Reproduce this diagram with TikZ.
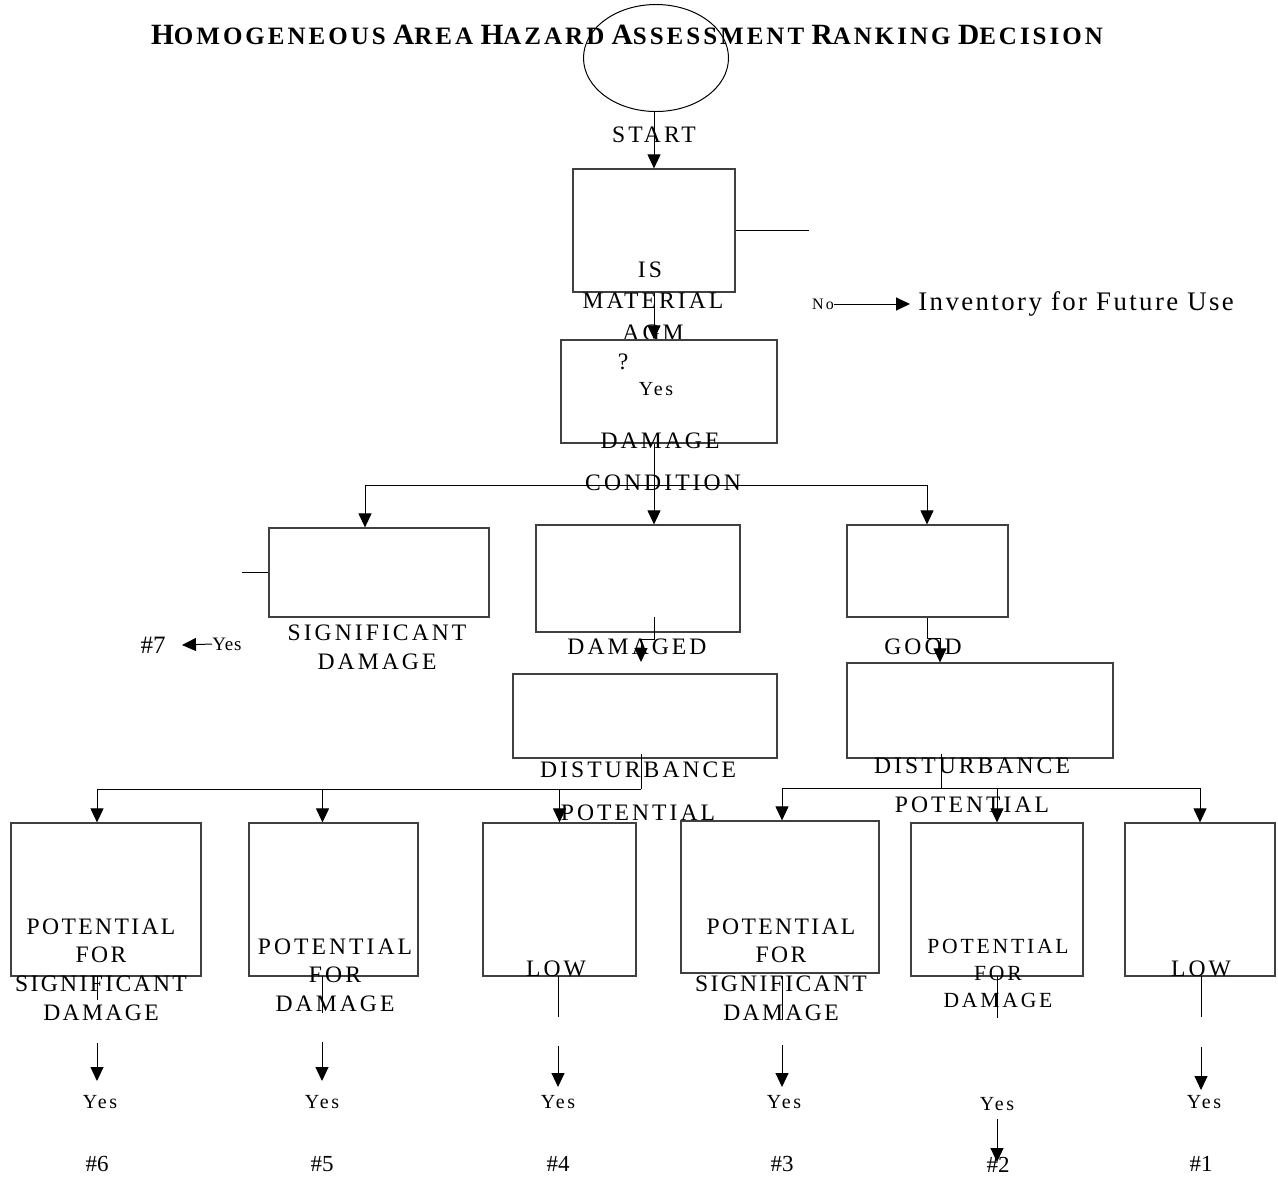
\documentclass[tikz,border=0pt]{standalone}
\usepackage{fontspec}
\setmainfont{Liberation Serif}
\newfontfamily\lblfont[LetterSpace=13]{Liberation Serif}
\newfontfamily\ttlfont[LetterSpace=12]{Liberation Serif}
\usetikzlibrary{arrows.meta, positioning, shapes.geometric, fit}
\newcommand{\ttlword}[2]{{\fontsize{14.7}{17}\selectfont #1}{\fontsize{12.5}{15}\selectfont #2}}
\tikzset{
  arr/.style={-{Triangle[length=7pt,width=6.5pt]}, line width=0.5pt},
  ln/.style={line width=0.5pt},
  boxq/.style={rectangle, draw=black!75, line width=0.6pt, inner sep=0pt},
  lbl/.style={font=\lblfont\fontsize{11.8}{14.3}\selectfont, inner sep=0pt, align=center},
  yes/.style={font=\lblfont\fontsize{10}{12}\selectfont, inner sep=0pt},
  rank/.style={font=\fontsize{11.5}{14}\selectfont, inner sep=0pt},
}
\begin{document}
\begin{tikzpicture}[x=0.5pt, y=-0.5pt]
  \useasboundingbox (0,0) rectangle (1278,1184);
  \fill[white] (0,0) rectangle (1278,1184);

  % title and start
  \node[font=\ttlfont\bfseries, inner sep=0pt] (title) at (627,35)
    {\ttlword{H}{OMOGENEOUS} \ttlword{A}{REA} \ttlword{H}{AZARD} \ttlword{A}{SSESSMENT} \ttlword{R}{ANKING} \ttlword{D}{ECISION}};
  \node[ellipse, draw, line width=0.5pt, minimum width=72.5pt, minimum height=53.5pt, inner sep=0pt] (start) at (656,58) {};
  \node[lbl] (startlbl) at (654,135) {START};

  % first question
  \node[boxq, fit={(573,169) (735,292)}] (q1) {};
  \draw[arr] (start.south -| q1.north) -- (q1.north);
  \node[lbl] (islbl) at (650,270) {IS};
  \node[lbl] (matlbl) at (653,301) {MATERIAL};
  \node[lbl] (agmlbl) at (653,333) {AGM};
  \node[lbl] (qmark) at (623,362) {?};
  \coordinate (nostub) at (809,231);
  \draw[ln] (q1.east) -- (q1.east -| nostub);
  \node[font=\lblfont\fontsize{8}{10}\selectfont, inner sep=0pt] (nolbl) at (823,304) {No};
  \node[font=\fontsize{13.4}{16}\selectfont\addfontfeature{LetterSpace=9}, inner sep=0pt, anchor=west] (inv) at (918,304) {Inventory for Future Use};
  \draw[arr] (nolbl.east) -- ([xshift=-4pt]inv.west);

  % damage condition
  \node[boxq, fit={(561,340) (777,443)}] (q2) {};
  \draw[arr] (q1.south) -- (q1.south |- q2.north);
  \node[yes] (yes0) at (656,389) {Yes};
  \node[lbl] (dmglbl) at (660,441) {DAMAGE};
  \node[lbl] (condlbl) at (663,483) {CONDITION};
  \coordinate (cond) at (654,485);
  \coordinate (condl) at (365,485);
  \coordinate (condr) at (927,485);
  \draw[ln] (q2.south -| cond) -- (cond);

  \node[boxq, fit={(269,528) (489,617)}] (sig) {};
  \node[boxq, fit={(536,525) (740,632)}] (dmg) {};
  \node[boxq, fit={(847,525) (1008,617)}] (good) {};
  \draw[arr] (cond) -- (condl) -- (condl |- sig.north);
  \draw[arr] (cond) -- (cond |- dmg.north);
  \draw[arr] (cond) -- (condr) -- (condr |- good.north);
  \node[lbl] (siglbl) at (377,647) {SIGNIFICANT\\DAMAGE};
  \node[lbl] (dmgdlbl) at (637,647) {DAMAGED};
  \node[lbl] (goodlbl) at (923,647) {GOOD};

  % significant damage -> #7
  \coordinate (sigstub) at (242,571);
  \draw[ln] (sig.west) -- (sig.west -| sigstub);
  \node[rank, font=\fontsize{12.5}{15}\selectfont] (r7) at (153,645) {\#7};
  \node[font=\fontsize{9.5}{11}\selectfont\addfontfeature{LetterSpace=4}, inner sep=0pt] (yes7) at (227,644) {Yes};
  \coordinate (r7tip) at (182,645);
  \draw[arr] (yes7.west) -- (r7tip);

  % disturbance potential
  \node[boxq, fit={(513,674) (777,758)}] (dist1) {};
  \node[boxq, fit={(847,663) (1113,758)}] (dist2) {};
  \coordinate (dk1) at (654,617);
  \coordinate (dk2) at (641,639);
  \draw[arr] (dk1) |- (dk2) -- ++(0,23);
  \coordinate (gk) at (940,638);
  \draw[arr] (good.south) |- (gk) -- (gk |- dist2.north);
  \node[lbl] (dist1lbl) at (638,791) {DISTURBANCE\\[7pt]POTENTIAL};
  \node[lbl] (dist2lbl) at (972,785) {DISTURBANCE\\[5pt]POTENTIAL};

  % ranking boxes
  \node[boxq, fit={(11,823) (201,976)}] (pa) {};
  \node[boxq, fit={(249,823) (418,976)}] (pb) {};
  \node[boxq, fit={(483,823) (636,976)}] (pc) {};
  \node[boxq, fit={(681,821) (879,973)}] (pd) {};
  \node[boxq, fit={(911,823) (1083,976)}] (pe) {};
  \node[boxq, fit={(1125,823) (1275,976)}] (pf) {};

  \coordinate (bl0) at (641,754);
  \coordinate (bl) at (641,789);
  \draw[ln] (bl0) -- (bl);
  \draw[arr] (bl) -| ([xshift=-4.5pt]pa.north);
  \draw[arr] (bl) -| ([xshift=-5.5pt]pb.north);
  \draw[arr] (bl) -| (pc.north);
  \coordinate (br0) at (941,754);
  \coordinate (br) at (941,788);
  \draw[ln] (br0) -- (br);
  \draw[arr] (br) -| ([xshift=1pt]pd.north);
  \draw[arr] (br) -| (pe.north);
  \draw[arr] (br) -| (pf.north);

  \node[lbl, font=\lblfont\fontsize{11.8}{14.3}\selectfont\addfontfeature{LetterSpace=10}] (palbl) at (101,969.5) {POTENTIAL\\FOR\\SIGNIFICANT\\DAMAGE};
  \node[lbl] (pblbl) at (335,975) {POTENTIAL\\FOR\\DAMAGE};
  \node[lbl] (pclbl) at (556,969) {LOW};
  \node[lbl, font=\lblfont\fontsize{11.8}{14.3}\selectfont\addfontfeature{LetterSpace=10}] (pdlbl) at (781,969.5) {POTENTIAL\\FOR\\SIGNIFICANT\\DAMAGE};
  \node[lbl, font=\lblfont\fontsize{10.8}{13.3}\selectfont] (pelbl) at (998,973.5) {POTENTIAL\\FOR\\DAMAGE};
  \node[lbl] (pflbl) at (1201,969) {LOW};

  % yes arrows and ranks
  \foreach \n/\x/\s/\a/\t/\yx/\r in {6/97/1000/1043/1081/100/6, 5/322/1013/1042/1081/322/5,
      4/558/1017/1046/1087/558/4, 3/782/1020/1045/1087/784/3, 1/1201/1017/1047/1090/1204/1} {
    \draw[ln] (\x,976) coordinate (sb\n) -- (\x,\s) coordinate (se\n);
    \coordinate (at\n) at (\x,\a);
    \coordinate (ah\n) at (\x,\t);
    \draw[arr] (at\n) -- (ah\n);
    \node[yes] (yes\n) at (\yx,1102) {Yes};
    \node[rank] (rk\n) at (\x,1164) {\#\r};
  }
  % rank 2 is drawn the other way round
  \coordinate (sb2) at (997,976);
  \coordinate (se2) at (997,1018);
  \draw[ln] (sb2) -- (se2);
  \node[yes] (yes2) at (997,1104) {Yes};
  \node[rank] (rk2) at (998,1165) {\#2};
  \coordinate (ah2) at (997,1162);
  \draw[arr] ([yshift=-4pt]yes2.south) -- (ah2);
\end{tikzpicture}
\end{document}
